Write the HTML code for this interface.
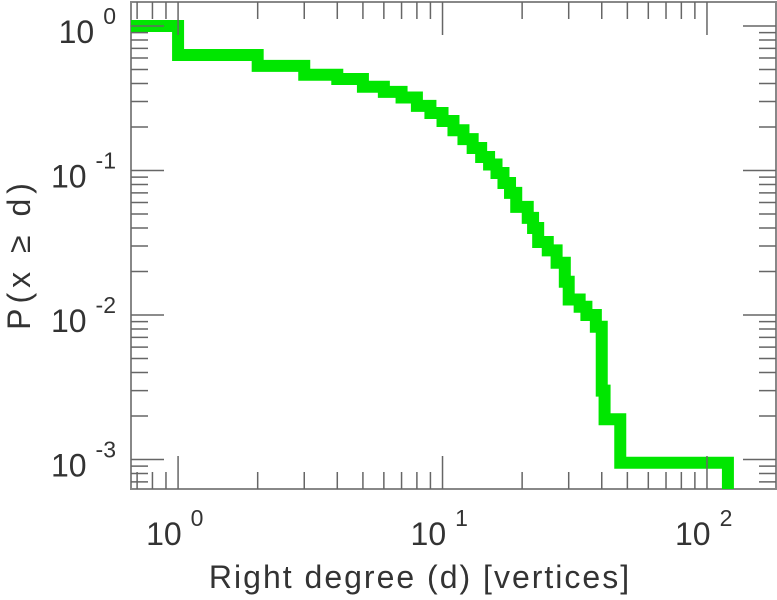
<!DOCTYPE html>
<html><head><meta charset="utf-8"><style>
html,body{margin:0;padding:0;background:#fff;}
svg{display:block;font-family:"Liberation Sans",sans-serif;}
</style></head><body>
<svg id="chart" width="777" height="600" viewBox="0 0 777 600"></svg>
<script>
const degrees = [1,2,3,4,5,6,7,8,9,10,11,12,13,14,15,16,17,18,19,21,22,23,25,27,29,30,33,35,38,40,41,47];
const probs = [1,0.63,0.53,0.46,0.43,0.38,0.35,0.32,0.28,0.25,0.22,0.19,0.165,0.143,0.124,0.11,0.096,0.082,0.070,0.056,0.047,0.040,0.032,0.028,0.023,0.017,0.0128,0.0114,0.0100,0.0083,0.0030,0.0019,0.00095];
const maxDegree = 120;
const xTickExps = [0,1,2];
const yTickExps = [0,-1,-2,-3];

const L=131,R=776,T=2,B=489;
const xLogMin=-0.178, xLogMax=2.261, yLogMax=0.166, yLogMin=-3.204;
function x(d){return L+(Math.log10(d)-xLogMin)/(xLogMax-xLogMin)*(R-L);}
function y(p){return T+(yLogMax-Math.log10(p))/(yLogMax-yLogMin)*(B-T);}
const svg=document.getElementById('chart');
const NS='http://www.w3.org/2000/svg';
function mk(tag,attrs){const e=document.createElementNS(NS,tag);for(const k in attrs)e.setAttribute(k,attrs[k]);svg.appendChild(e);return e;}

const frame=mk('rect',{x:L,y:T,width:R-L,height:B-T,fill:'none',stroke:'#888','stroke-width':2});



const defs=mk('defs',{});
const cp=document.createElementNS(NS,'clipPath');cp.setAttribute('id','clip');
const cr=document.createElementNS(NS,'rect');cr.setAttribute('x',L);cr.setAttribute('y',T);cr.setAttribute('width',R-L);cr.setAttribute('height',B-T);
cp.appendChild(cr);defs.appendChild(cp);

let d='M'+L+','+y(probs[0]);
for(let i=0;i<degrees.length;i++){d+=' H'+x(degrees[i])+' V'+y(probs[i+1]);}
d+=' H'+x(maxDegree)+' V'+(B+20);
const line=mk('path',{d:d,fill:'none',stroke:'#00e600','stroke-width':12,'stroke-linejoin':'miter','clip-path':'url(#clip)'});



function tick(x1,y1,x2,y2,name){const t=mk('line',{x1:x1,y1:y1,x2:x2,y2:y2,stroke:'#666','stroke-width':1.5});

}
for(let e=-1;e<=2;e++){for(let m=1;m<10;m++){const v=m*Math.pow(10,e);const px=x(v);if(px<L||px>R)continue;const len=m===1?33:17;
tick(px,B,px,B-len,'x-tick');tick(px,T,px,T+len,'x-tick');}}
for(let e=-4;e<=0;e++){for(let m=1;m<10;m++){const v=m*Math.pow(10,e);const py=y(v);if(py<T||py>B)continue;const len=m===1?33:17;
tick(L,py,L+len,py,'y-tick');tick(R,py,R-len,py,'y-tick');}}

xTickExps.forEach(e=>{const t=mk('text',{x:x(Math.pow(10,e))-32,y:545,'font-size':32,fill:'#333'});


t.innerHTML='10<tspan dx="9" dy="-19" font-size="23">'+e+'</tspan>';});
yTickExps.forEach(e=>{const t=mk('text',{x:116,y:y(Math.pow(10,e))+17,'font-size':32,fill:'#333','text-anchor':'end'});


t.innerHTML='10<tspan dx="9" dy="-19" font-size="23">'+e+'</tspan>';});

const xt=mk('text',{x:420,y:588,'font-size':32,fill:'#333','text-anchor':'middle','letter-spacing':2});


xt.textContent='Right degree (d) [vertices]';
const yt=mk('text',{x:0,y:0,'font-size':32,fill:'#333','text-anchor':'middle','letter-spacing':5,transform:'translate(30,254) rotate(-90)'});


yt.textContent='P(x \u2265 d)';
</script>
</body></html>
